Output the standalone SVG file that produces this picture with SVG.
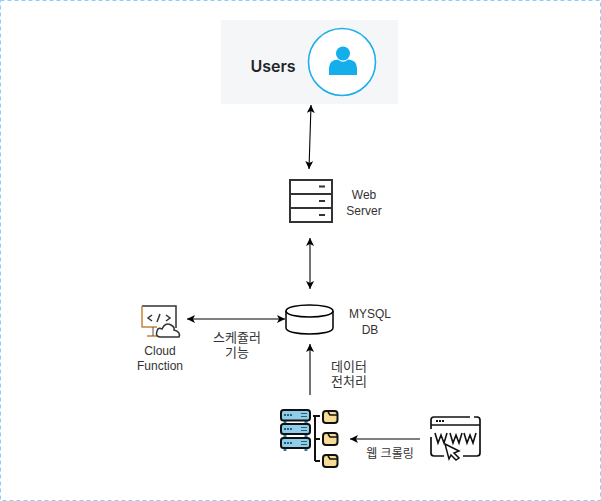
<svg xmlns="http://www.w3.org/2000/svg" width="601" height="501" viewBox="0 0 601 501">
<style>
text{font-family:"Liberation Sans","Noto Sans CJK KR",sans-serif;font-size:12px;fill:#333;text-anchor:middle}
.k{font-size:13px}
.c{fill:none;stroke:#000;stroke-width:1.1}
.i{fill:none;stroke:#333;stroke-width:2}
</style>
<defs>
<marker id="a" markerWidth="9" markerHeight="9" refX="8" refY="4" orient="auto-start-reverse" markerUnits="userSpaceOnUse"><path d="M0 0L8 4L0 8L2 4Z" fill="#000"/></marker>
</defs>
<rect x="0.5" y="0.5" width="600" height="500" fill="#fff" stroke="#8ccfff" stroke-dasharray="4 3"/>
<g id="connectors">
<path class="c" d="M311 105L309 169" marker-start="url(#a)" marker-end="url(#a)"/>
<path class="c" d="M310 238V289" marker-start="url(#a)" marker-end="url(#a)"/>
<path class="c" d="M187 319H285" marker-start="url(#a)" marker-end="url(#a)"/>
<path class="c" d="M310 395V344" marker-end="url(#a)"/>
<path class="c" d="M420 439H350" marker-end="url(#a)"/>
</g>
<g id="users">
<rect x="221" y="20" width="177" height="84" fill="#f5f6f8"/>
<text x="273" y="72" style="font-family:Inter,'Liberation Sans',sans-serif;font-size:16px;font-weight:600;fill:#232529">Users</text>
<circle cx="342" cy="62" r="33.500" fill="#fff" stroke="#1eaeea" stroke-width="1.600"/>
<circle cx="343" cy="53.500" r="7" fill="#14aeea"/>
<path d="M329 75V68Q329 60 338 59.500Q343 64 348 59.500Q357 60 357 68V75Z" fill="#14aeea"/>
</g>
<g id="web-server">
<rect class="i" x="290" y="180" width="42" height="42"/>
<path class="i" d="M290 194H332M290 208H332"/>
<path class="i" d="M319 186.500H325M319 201H325M319 215H325"/>
<text x="364" y="199">Web</text>
<text x="364" y="215">Server</text>
</g>
<g id="mysql-db">
<path d="M286 311C286 303 333 303 333 311V328C333 336 286 336 286 328Z" fill="#fff" stroke="#000" stroke-width="1.500"/>
<path d="M286 311C286 319 333 319 333 311" fill="none" stroke="#000" stroke-width="1.500"/>
<text x="370" y="318">MYSQL</text>
<text x="370" y="334">DB</text>
</g>
<g id="cloud-function">
<path d="M142 306H176V328" fill="none" stroke="#333" stroke-width="1.500"/>
<path d="M142 306V327H157M147 336H162" fill="none" stroke="#c8833a" stroke-width="1.500"/>
<path d="M153 327V336" fill="none" stroke="#555" stroke-width="1"/>
<path d="M152 315L148 318L152 321M166 315L170 318L166 321M157 322L160 314" fill="none" stroke="#333" stroke-width="1.500"/>
<path d="M161 337Q155 337 157 331Q158 327 162 329Q165 322 171 325Q175 327 174 330Q181 332 179 337Z" fill="#fff" stroke="#333" stroke-width="1.500"/>
<text x="160" y="355">Cloud</text>
<text x="160" y="370">Function</text>
</g>
<g id="scheduler-label"><text class="k" x="237" y="342">스케쥴러</text><text class="k" x="237" y="357">기능</text></g>
<g id="preprocess-label"><text class="k" x="349" y="371">데이터</text><text class="k" x="349" y="386">전처리</text></g>
<g id="crawl-label"><text x="390" y="458">웹 크롤링</text></g>
<g id="crawler-store">
<path d="M285 420V424M306 420V424M285 434V438M306 434V438M285 448V451M306 448V451" stroke="#2e7e9a" stroke-width="3"/>
<g fill="#8fcdea" stroke="#111" stroke-width="2">
<rect x="281" y="410" width="29" height="10.500" rx="2.500"/>
<rect x="281" y="424" width="29" height="10" rx="2.500"/>
<rect x="281" y="438" width="29" height="10" rx="2.500"/>
</g>
<path d="M284 415H292M284 429H292M284 443H292" stroke="#2b5f78" stroke-width="2" stroke-dasharray="2 1"/>
<path d="M301 413.500H307M301 416.500H307M301 427.500H307M301 430.500H307M301 441.500H307M301 444.500H307" stroke="#2b5f78" stroke-width="1.200"/>
<path d="M315 416V461M313 416H320M315 439H320M315 461H320" fill="none" stroke="#111" stroke-width="2"/>
<g fill="#f6dc96" stroke="#111" stroke-width="2">
<rect x="323" y="411" width="14.500" height="12" rx="3"/>
<rect x="323" y="433" width="14.500" height="12" rx="3"/>
<rect x="323" y="455" width="14.500" height="12" rx="3"/>
</g>
<path d="M328 412L330 415H337M328 434L330 437H337M328 456L330 459H337" fill="none" stroke="#111" stroke-width="1.500"/>
</g>
<g id="website">
<path d="M431 429V420Q431 417 434 417H470M474 417H477Q480 417 480 420V453Q480 456 477 456H463M444 456H434Q431 456 431 453V437" fill="none" stroke="#111" stroke-width="1.700"/>
<path d="M431 425H480" fill="none" stroke="#111" stroke-width="1.700"/>
<path d="M436 421H444" stroke="#111" stroke-width="2" stroke-dasharray="2 1"/>
<path d="M435 433L438 443L441 435L444 443L447 433M450 433L453 443L456 435L459 443L462 433M464 433L467 443L470 435L473 443L476 433" fill="none" stroke="#111" stroke-width="1.600"/>
<path d="M445 444L459 451L454 453L459 458L456 460L451 455L449 459Z" fill="#fff" stroke="#111" stroke-width="1.500"/>
</g>
</svg>
